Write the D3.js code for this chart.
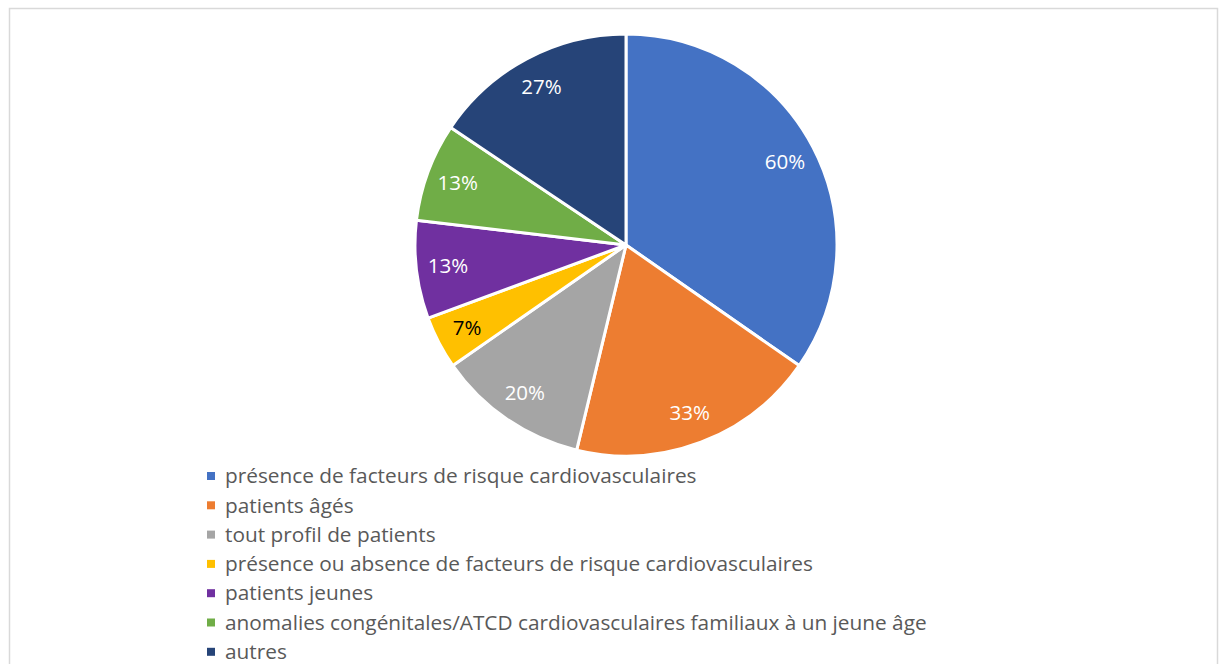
<!DOCTYPE html>
<html>
<head>
<meta charset="utf-8">
<script src="https://cdn.jsdelivr.net/npm/d3@7"></script>
<style>
  body { margin: 0; background: #fff; }
  svg { font-family: "Open Sans", Lato, sans-serif; }
</style>
</head>
<body>
<div id="chart"></div>
<script>
// Data
var categories = [
  "présence de facteurs de risque cardiovasculaires",
  "patients âgés",
  "tout profil de patients",
  "présence ou absence de facteurs de risque cardiovasculaires",
  "patients jeunes",
  "anomalies congénitales/ATCD cardiovasculaires familiaux à un jeune âge",
  "autres"
];
var values = [60, 33, 20, 7, 13, 13, 27];
var labels = ["60%", "33%", "20%", "7%", "13%", "13%", "27%"];
var colors = ["#4472C4", "#ED7D31", "#A5A5A5", "#FFC000", "#7030A0", "#70AD47", "#264478"];

var width = 1220;
var height = 664;
var cx = 626, cy = 245, radius = 211;

var svg = d3.select('#chart')
  .append('svg')
  .attr('width', width)
  .attr('height', height);

// chart border
svg.append('rect')
  .attr('x', 9.5)
  .attr('y', 8.5)
  .attr('width', 1208)
  .attr('height', 700)
  .style('fill', 'none')
  .style('stroke', '#d9d9d9')
  .style('stroke-width', 1.5);

var pie = d3.pie().sort(null).value(d => d);
var arcs = pie(values);

var arc = d3.arc().innerRadius(0).outerRadius(radius);
var labelArc = d3.arc().innerRadius(radius * 0.85).outerRadius(radius * 0.85);

var g = svg.append('g')
  .attr('transform', 'translate(' + cx + ',' + cy + ')');

g.selectAll('path')
  .data(arcs)
  .enter()
  .append('path')
  .attr('d', arc)
  .style('fill', (d, i) => colors[i])
  .style('stroke', '#fff')
  .style('stroke-width', 3)
  .style('stroke-linejoin', 'round');

g.selectAll('text')
  .data(arcs)
  .enter()
  .append('text')
  .attr('transform', d => 'translate(' + labelArc.centroid(d) + ')')
  .attr('text-anchor', 'middle')
  .attr('dy', '0.35em')
  .style('font-size', '20.5px')
  .style('fill', (d, i) => i === 3 ? '#000' : '#fff')
  .text((d, i) => labels[i]);

// Legend
var legend = svg.append('g')
  .attr('transform', 'translate(207,476)');

var items = legend.selectAll('g')
  .data(categories)
  .enter()
  .append('g')
  .attr('transform', (d, i) => 'translate(0,' + (i * 29.3) + ')');

items.append('rect')
  .attr('x', 0)
  .attr('y', -4)
  .attr('width', 8)
  .attr('height', 8)
  .style('fill', (d, i) => colors[i]);

items.append('text')
  .attr('x', 18)
  .attr('dy', '0.35em')
  .style('font-size', '20.8px')
  .style('fill', '#595959')
  .text(d => d);
</script>
</body>
</html>
